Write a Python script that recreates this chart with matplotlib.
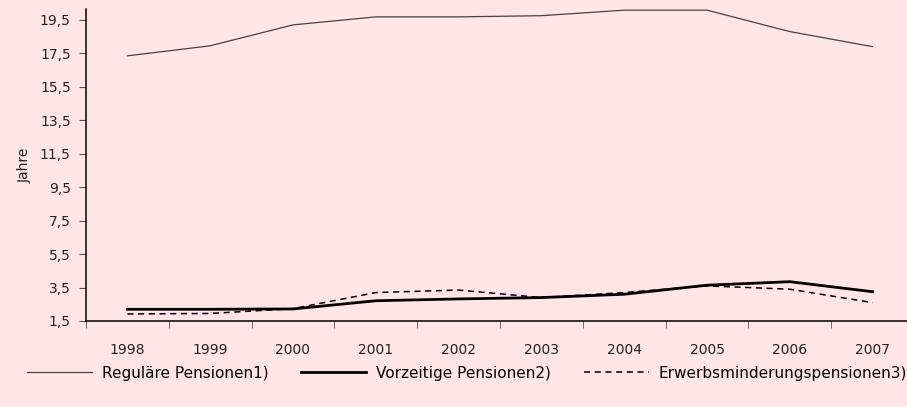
import matplotlib.pyplot as plt
import numpy as np

plt.rcParams['font.family'] = ['DejaVu Sans']

years = ["1998", "1999", "2000", "2001", "2002", "2003", "2004", "2005", "2006", "2007"]
regulaer = [17.35, 17.95, 19.2, 19.68, 19.68, 19.75, 20.08, 20.08, 18.8, 17.9]
vorzeitig = [2.2, 2.2, 2.22, 2.71, 2.82, 2.9, 3.1, 3.64, 3.85, 3.25]
erwerb = [1.92, 1.95, 2.24, 3.2, 3.35, 2.9, 3.2, 3.6, 3.4, 2.6]
yticks = [1.5, 3.5, 5.5, 7.5, 9.5, 11.5, 13.5, 15.5, 17.5, 19.5]

bg = "#ffe5e6"
fig = plt.figure(figsize=(9.07, 4.07), dpi=100, facecolor=bg)
ax = fig.add_axes([86/907, 1 - 321/407, 828/907, 312/407])
ax.set_facecolor(bg)

x = np.arange(len(years))
ax.plot(x, regulaer, color="#444444", lw=0.9, label="Reguläre Pensionen1)")
ax.plot(x, vorzeitig, color="black", lw=2.0, label="Vorzeitige Pensionen2)")
ax.plot(x, erwerb, color="black", lw=1.1, ls=(0, (4, 3)), label="Erwerbsminderungspensionen3)")

ax.set_xlim(-0.5, len(years) - 0.5)
ax.set_ylim(1.5, 20.15)
ax.set_yticks(yticks)
ax.set_yticklabels([f"{v:.1f}".replace(".", ",") for v in yticks], fontsize=10, color="#222222")
ax.set_xticks(x)
ax.set_xticklabels(years, fontsize=10, color="#222222")
ax.set_xticks(np.arange(len(years) + 1) - 0.5, minor=True)
ax.tick_params(axis="x", which="major", length=0, pad=16)
ax.tick_params(axis="x", which="minor", length=5, color="#555555", direction="out")
ax.tick_params(axis="y", length=5, color="#555555", pad=6)
ax.set_ylabel("Jahre", fontsize=10, color="#222222", labelpad=6)

for s in ["top", "right"]:
    ax.spines[s].set_visible(False)
ax.spines["left"].set_linewidth(1.1)
ax.spines["bottom"].set_linewidth(1.1)

fig.legend(loc="center", bbox_to_anchor=(0.515, 0.083), ncol=3, frameon=False,
           fontsize=11, handlelength=4.25, handletextpad=0.65, columnspacing=2.15)

fig.savefig("out.png", dpi=100, facecolor=bg)
